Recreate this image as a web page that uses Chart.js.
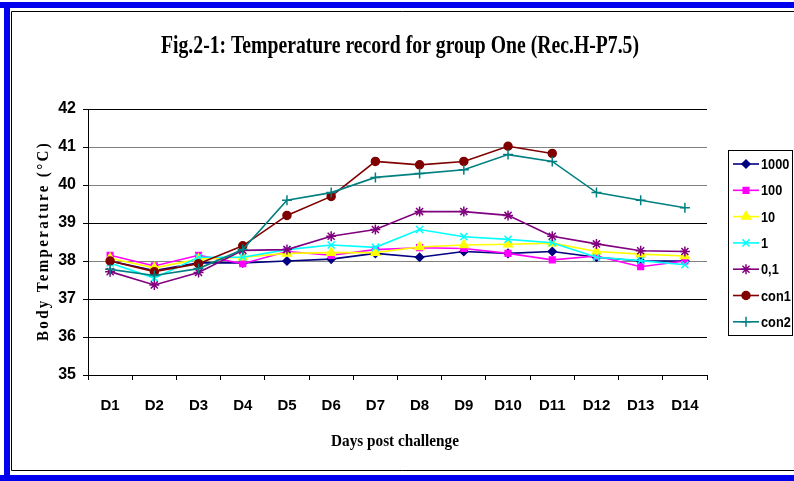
<!DOCTYPE html>
<html>
<head>
<meta charset="utf-8">
<script src="https://cdn.jsdelivr.net/npm/chart.js@4/dist/chart.umd.min.js"></script>
<style>
  html, body { margin: 0; padding: 0; background: #fff; }
  #wrap { width: 794px; height: 481px; position: relative; }
</style>
</head>
<body>
<div id="wrap"><canvas id="tempChart" width="794" height="481"></canvas></div>
<script>
// days post challenge
const days = ["D1", "D2", "D3", "D4", "D5", "D6", "D7", "D8", "D9", "D10", "D11", "D12", "D13", "D14"];

// body temperature per group
const g1000 = [38.0, 37.75, 37.95, 37.95, 38.0, 38.05, 38.2, 38.1, 38.25, 38.2, 38.25, 38.1, 38.0, 38.0];
const g100 = [38.15, 37.87, 38.15, 37.93, 38.25, 38.15, 38.3, 38.35, 38.33, 38.2, 38.03, 38.13, 37.85, 38.0];
const g10 = [38.07, 37.82, 38.05, 38.1, 38.2, 38.22, 38.22, 38.37, 38.42, 38.44, 38.47, 38.25, 38.18, 38.13];
const g1 = [37.95, 37.55, 38.1, 38.1, 38.3, 38.42, 38.36, 38.83, 38.64, 38.57, 38.48, 38.1, 38.01, 37.9];
const g01 = [37.72, 37.37, 37.7, 38.28, 38.3, 38.65, 38.83, 39.3, 39.3, 39.2, 38.65, 38.45, 38.27, 38.25];
const con1 = [38.0, 37.72, 37.93, 38.4, 39.2, 39.7, 40.62, 40.53, 40.62, 41.02, 40.83, null, null, null];
const con2 = [37.78, 37.62, 37.8, 38.3, 39.6, 39.8, 40.2, 40.3, 40.4, 40.8, 40.62, 39.8, 39.6, 39.4];

const seriesNames = ["1000", "100", "10", "1", "0,1", "con1", "con2"];
const yTicks = [35, 36, 37, 38, 39, 40, 41, 42];

const colors = ["#000080", "#ff00ff", "#ffff00", "#00ffff", "#800080", "#800000", "#008080"];
const markers = ["rectRot", "rect", "triangle", "crossRot", "star", "circle", "cross"];
const radii = [4, 4, 5, 5, 5, 4, 5];
const values = [g1000, g100, g10, g1, g01, con1, con2];

const datasets = seriesNames.map((name, i) => ({
  label: name,
  data: values[i],
  borderColor: colors[i],
  backgroundColor: colors[i],
  borderWidth: 1.6,
  pointStyle: markers[i],
  pointRadius: radii[i],
  pointBorderWidth: 1.5,
  tension: 0,
  order: seriesNames.length - i
}));

// draws text squeezed horizontally to a target width
function squeezed(c, text, x, y, width, angle) {
  const w = c.measureText(text).width;
  c.save();
  c.translate(x, y);
  if (angle) c.rotate(angle);
  c.scale(width / w, 1);
  c.fillText(text, 0, 0);
  c.restore();
}

// frame, titles and legend box drawn around the chart
const decor = {
  id: "decor",
  beforeDraw(chart) {
    const c = chart.ctx;
    c.save();
    c.fillStyle = "#fff";
    c.fillRect(0, 0, chart.width, chart.height);
    c.fillStyle = "#0000ee";
    c.fillRect(0, 2, 794, 6);
    c.fillRect(4, 2, 6, 479);
    c.fillRect(0, 475, 794, 6);
    c.strokeStyle = "#000";
    c.lineWidth = 1;
    c.beginPath();
    c.moveTo(794, 11.5); c.lineTo(11.5, 11.5); c.lineTo(11.5, 470.5); c.lineTo(794, 470.5);
    c.stroke();
    c.restore();
  },
  afterDraw(chart) {
    const c = chart.ctx;
    c.save();
    c.fillStyle = "#000";
    c.textAlign = "center";
    c.textBaseline = "middle";

    c.font = "bold 25px 'Liberation Serif'";
    squeezed(c, "Fig.2-1: Temperature record for group One (Rec.H-P7.5)", 400, 47, 478);

    c.font = "bold 17px 'Liberation Serif'";
    squeezed(c, "Days post challenge", 395, 442, 128);

    c.font = "bold 16px 'Liberation Serif'";
    c.letterSpacing = "2.5px";
    squeezed(c, "Body Temperature (°C)", 44, 241, 200, -Math.PI / 2);
    c.letterSpacing = "0px";

    // legend
    c.lineWidth = 1;
    c.strokeStyle = "#000";
    c.strokeRect(728.5, 150.5, 64, 185);
    c.textAlign = "left";
    c.font = "bold 15px 'Liberation Sans'";
    chart.data.datasets.forEach((ds, i) => {
      const y = 164 + i * 26.3;
      c.strokeStyle = ds.borderColor;
      c.fillStyle = ds.borderColor;
      c.lineWidth = 1.6;
      c.beginPath();
      c.moveTo(733, y); c.lineTo(759, y);
      c.stroke();
      c.lineWidth = 1.5;
      Chart.helpers.drawPoint(c, {
        pointStyle: ds.pointStyle, radius: ds.pointRadius, borderWidth: 1.5, rotation: 0
      }, 746, y);
      c.fillStyle = "#000";
      c.save();
      c.translate(761, y + 1);
      c.scale(0.85, 1);
      c.fillText(ds.label, 0, 0);
      c.restore();
    });
    c.restore();
  }
};

const gridColor = (ctx) => {
  const v = ctx.tick ? ctx.tick.value : null;
  if (v === 41 || v === 40 || v === 38) return "#808080";
  return "#000";
};

new Chart(document.getElementById("tempChart"), {
  type: "line",
  data: { labels: days, datasets: datasets },
  options: {
    responsive: false,
    animation: false,
    layout: { padding: { top: 109, right: 87, left: 0, bottom: 0 } },
    plugins: {
      legend: { display: false },
      tooltip: { enabled: false },
      title: { display: false }
    },
    scales: {
      x: {
        offset: true,
        grid: { offset: true, drawOnChartArea: false, drawTicks: true, tickLength: 5, color: "#000" },
        border: { color: "#000", width: 1 },
        ticks: { color: "#000", font: { family: "'Liberation Sans'", size: 15, weight: "bold" }, padding: 17, maxRotation: 0, autoSkip: false },
        afterFit(scale) { scale.height = 106; }
      },
      y: {
        min: yTicks[0],
        max: yTicks[yTicks.length - 1],
        afterBuildTicks(scale) { scale.ticks = yTicks.map(v => ({ value: v })); },
        grid: { color: gridColor, tickColor: "#000", tickLength: 5, lineWidth: 1 },
        border: { color: "#000", width: 1 },
        ticks: { color: "#000", font: { family: "'Liberation Sans'", size: 16, weight: "bold" }, padding: 7 },
        afterFit(scale) { scale.width = 88; }
      }
    }
  },
  plugins: [decor]
});
</script>
</body>
</html>
